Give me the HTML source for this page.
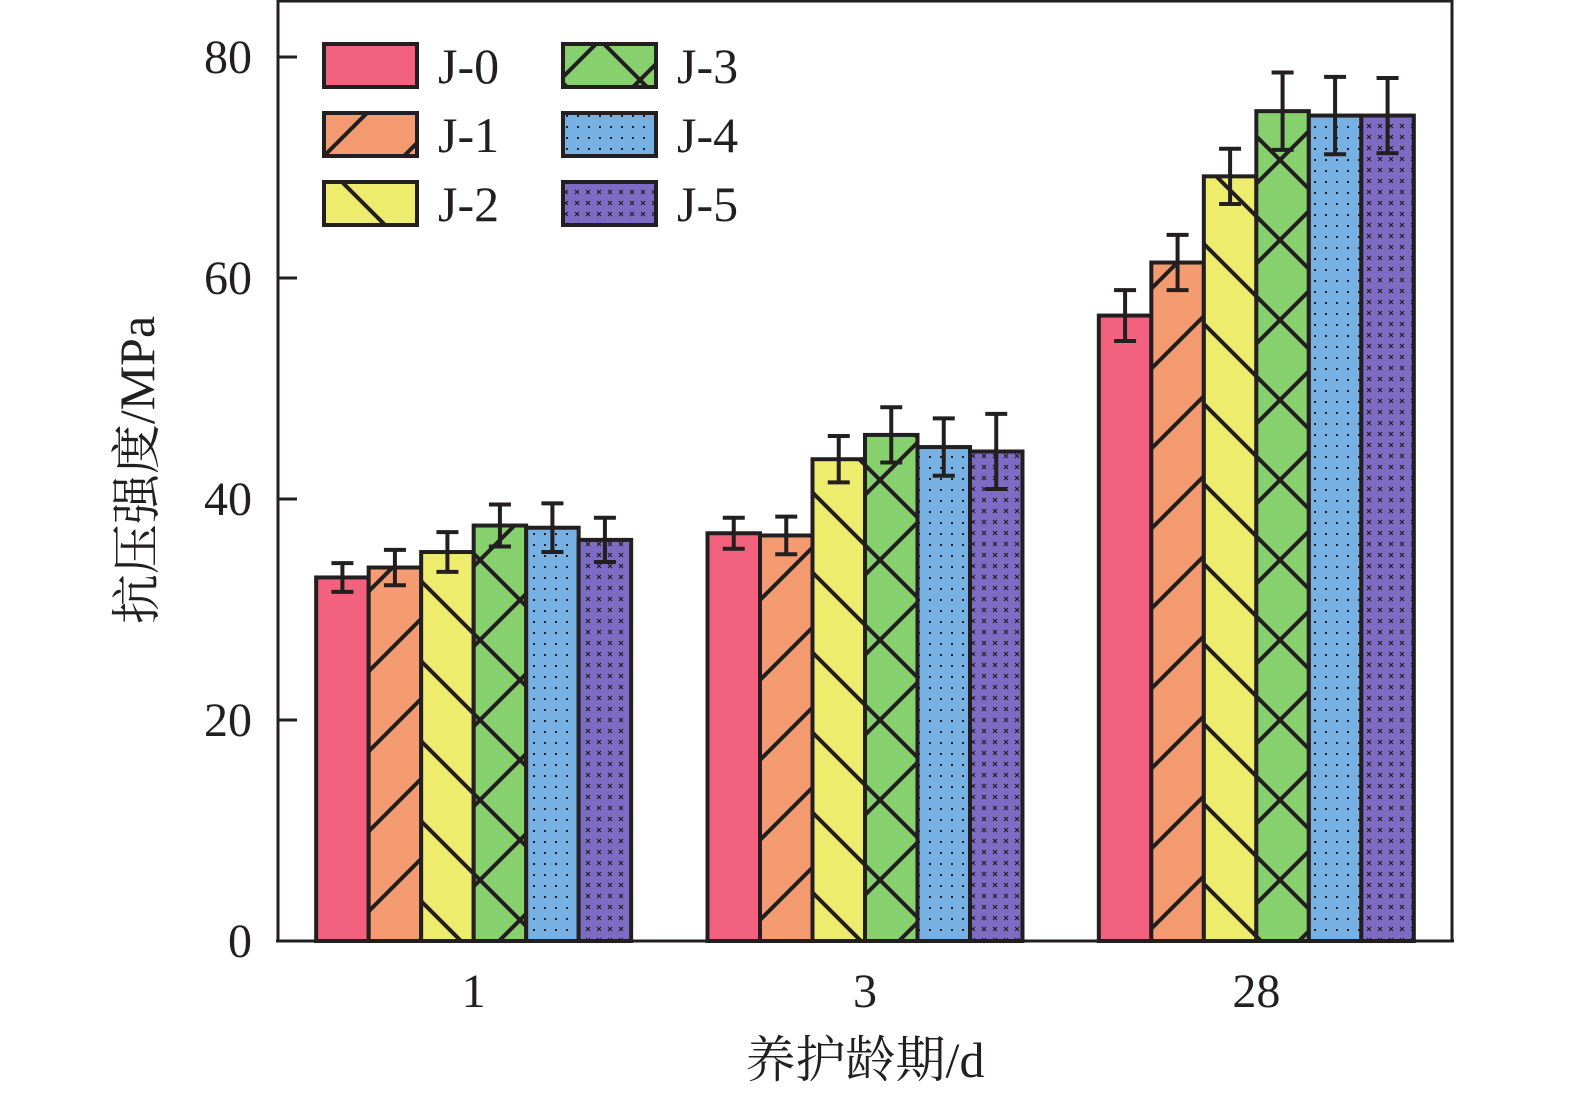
<!DOCTYPE html>
<html><head><meta charset="utf-8"><style>
body{margin:0;background:#fff}
svg text{font-family:"Liberation Serif","Noto Serif CJK SC",serif;fill:#231f20}
</style></head><body>
<svg width="1575" height="1091" xmlns="http://www.w3.org/2000/svg">
<defs>
<pattern id="p1" patternUnits="userSpaceOnUse" width="80" height="80"><rect width="80" height="80" fill="#f59b72"/><path d="M-10,90 L90,-10 M-50,50 L50,-50 M30,130 L130,30" stroke="#231f20" stroke-width="4"/></pattern>
<pattern id="p2" patternUnits="userSpaceOnUse" width="80" height="80"><rect width="80" height="80" fill="#eeec6c"/><path d="M-10,-10 L90,90 M-50,30 L50,130 M30,-50 L130,50" stroke="#231f20" stroke-width="4"/></pattern>
<pattern id="p3" patternUnits="userSpaceOnUse" width="80" height="80"><rect width="80" height="80" fill="#86d16e"/><path d="M-10,-10 L90,90 M-50,30 L50,130 M30,-50 L130,50 M-10,90 L90,-10 M-50,50 L50,-50 M30,130 L130,30" stroke="#231f20" stroke-width="4"/></pattern>
<pattern id="p4" patternUnits="userSpaceOnUse" width="11" height="11"><rect width="11" height="11" fill="#77b0e3"/><rect x="5" y="5" width="2" height="2" fill="#231f20"/></pattern>
<pattern id="p5" patternUnits="userSpaceOnUse" width="11" height="11"><rect width="11" height="11" fill="#7c6cc4"/><path d="M3,3 L7,7 M7,3 L3,7" stroke="#231f20" stroke-width="1.2"/></pattern>
</defs>
<g id="bars"></g>
<g id="axes"></g>
<g id="legend"></g>
</svg>
<script>
const categories=["1","3","28"];
const seriesNames=["J-0","J-1","J-2","J-3","J-4","J-5"];
const values=[[32.9,36.9,56.6],[33.8,36.7,61.4],[35.2,43.6,69.2],[37.6,45.8,75.1],[37.4,44.7,74.7],[36.3,44.3,74.7]];
const errors=[[1.3,1.4,2.3],[1.6,1.7,2.5],[1.8,2.1,2.5],[1.9,2.5,3.5],[2.2,2.6,3.5],[2.0,3.4,3.4]];
const yTicks=[0,20,40,60,80];
const fills=["#f2627e","url(#p1)","url(#p2)","url(#p3)","url(#p4)","url(#p5)"];
const NS="http://www.w3.org/2000/svg";
const L=278,R=1452,T=1,B=941;
const y=v=>B-v*(B-57)/80;
const band=(R-L)/3, bw=52.5;
function mk(tag,attrs,parent,txt){const e=document.createElementNS(NS,tag);for(const k in attrs)e.setAttribute(k,attrs[k]);if(txt!==undefined)e.textContent=txt;parent.appendChild(e);return e;}
const gb=document.getElementById('bars'),ga=document.getElementById('axes'),gl=document.getElementById('legend');
categories.forEach((c,ci)=>{
  const cx=L+band*(ci+0.5);
  seriesNames.forEach((s,si)=>{
    const x=cx-3*bw+si*bw, v=values[si][ci], e=errors[si][ci];
    const r=mk('rect',{x:x,y:y(v),width:bw,height:B-y(v),fill:fills[si],stroke:"#231f20","stroke-width":4},gb);
    
    
    const m=x+bw/2;
    const eb=mk('path',{d:`M${m},${y(v+e)}V${y(v-e)}M${m-11},${y(v+e)}H${m+11}M${m-11},${y(v-e)}H${m+11}`,stroke:"#231f20","stroke-width":4,fill:"none"},gb);
    
    
    });
  const t=mk('text',{x:cx,y:1007,"font-size":48,"text-anchor":"middle"},ga,c);
  
  
});
const fr=mk('path',{d:`M${L},${B}V${T}H${R}V${B}M${L-2},${B}H${R+2}`,stroke:"#231f20","stroke-width":3,fill:"none"},ga);


yTicks.forEach(v=>{
  mk('path',{d:`M${L},${y(v)}H${L+19}`,stroke:"#231f20","stroke-width":3},ga);
  const t=mk('text',{x:252,y:y(v)+16,"font-size":48,"text-anchor":"end"},ga,v);
  
  
});
const xt=mk('text',{x:865,y:1077,"font-size":50,"text-anchor":"middle"},ga,"养护龄期/d");


const yt=mk('text',{x:0,y:0,"font-size":50,"text-anchor":"middle",transform:"translate(154,470) rotate(-90)"},ga,"抗压强度/MPa");


seriesNames.forEach((s,si)=>{
  const col=Math.floor(si/3),row=si%3;
  const bx=324+col*239, by=44+row*69;
  const g=mk('g',{},gl);
  
  
  mk('rect',{x:bx,y:by,width:93,height:43,fill:fills[si],stroke:"#231f20","stroke-width":4},g);
  mk('text',{x:bx+114,y:by+39,"font-size":50},g,s);
});
</script>
</body></html>
